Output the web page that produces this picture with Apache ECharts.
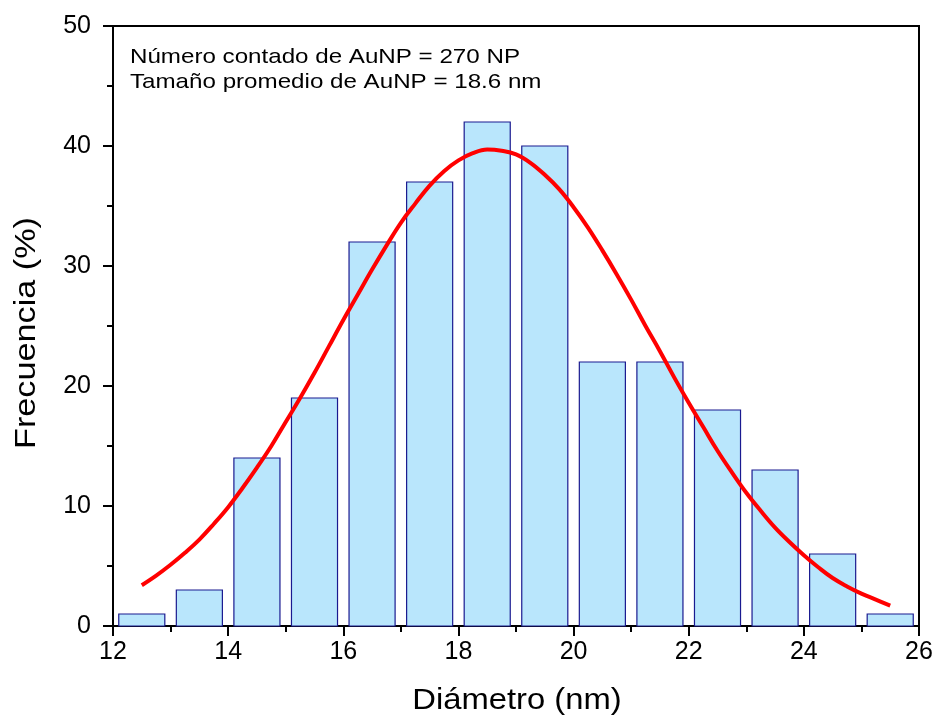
<!DOCTYPE html>
<html><head><meta charset="utf-8">
<script src="https://cdn.jsdelivr.net/npm/echarts@6/dist/echarts.min.js"></script>
<style>html,body{margin:0;padding:0;background:#fff}#c{width:940px;height:719px}</style>
</head><body><div id="c"></div>
<script>
// Histogram bins (centers, nm) and frequencies (%)
const binCenters = [12.5,13.5,14.5,15.5,16.5,17.5,18.5,19.5,20.5,21.5,22.5,23.5,24.5,25.5];
const frequencies = [1,3,14,19,32,37,42,40,22,22,18,13,6,1];
const binWidth = 0.8;
// Fitted curve
const fitX = [12.5,12.75,13,13.25,13.5,13.75,14,14.25,14.5,14.75,15,15.25,15.5,15.75,16,16.25,16.5,16.75,17,17.25,17.5,17.75,18,18.25,18.5,18.75,19,19.25,19.5,19.75,20,20.25,20.5,20.75,21,21.25,21.5,21.75,22,22.25,22.5,22.75,23,23.25,23.5,23.75,24,24.25,24.5,24.75,25,25.25,25.5];
const fitY = [3.4,4.2,5.1,6.1,7.2,8.5,9.9,11.5,13.2,15.0,17.0,19.0,21.1,23.3,25.5,27.6,29.7,31.7,33.6,35.2,36.7,37.9,38.8,39.4,39.7,39.6,39.3,38.6,37.6,36.4,34.9,33.2,31.3,29.3,27.2,25.0,22.9,20.7,18.6,16.6,14.6,12.8,11.1,9.6,8.2,7.0,5.9,4.9,4.0,3.3,2.7,2.2,1.7];
const xTicks = [12,14,16,18,20,22,24,26];
const yTicks = [0,10,20,30,40,50];
const annotation = ['Número contado de AuNP = 270 NP','Tamaño promedio de AuNP = 18.6 nm'];
const xName = 'Diámetro (nm)';
const yName = 'Frecuencia (%)';

const chart = echarts.init(document.getElementById('c'));
const font = 'Arial, "Liberation Sans", sans-serif';
const stretch = 1.15;
chart.setOption({
  animation:false,
  backgroundColor:'#fff',
  grid:{left:113,right:21,top:26,bottom:93,show:true,borderColor:'#000',borderWidth:2,backgroundColor:'transparent'},
  graphic:[
    {type:'text',x:130,y:57,scaleX:stretch,style:{text:annotation[0],x:0,y:0,font:'21px '+font,fill:'#000',align:'left',verticalAlign:'middle'}},
    {type:'text',x:130,y:82,scaleX:stretch,style:{text:annotation[1],x:0,y:0,font:'21px '+font,fill:'#000',align:'left',verticalAlign:'middle'}},
    {type:'text',x:517,y:701,scaleX:1.13,style:{text:xName,x:0,y:0,font:'29px '+font,fill:'#000',align:'center',verticalAlign:'middle'}},
    {type:'text',x:27,y:333,rotation:Math.PI/2,scaleX:1.18,style:{text:yName,x:0,y:0,font:'29px '+font,fill:'#000',align:'center',verticalAlign:'middle'}}
  ],
  xAxis:{type:'value',min:xTicks[0],max:xTicks[xTicks.length-1],interval:2,
    axisLine:{show:true,lineStyle:{color:'#000',width:2}},
    axisTick:{show:true,inside:false,length:10,lineStyle:{color:'#000',width:2}},
    minorTick:{show:true,splitNumber:2,length:6,lineStyle:{color:'#000',width:2}},
    axisLabel:{fontFamily:font,fontSize:25,color:'#000',margin:14},
    splitLine:{show:false}},
  yAxis:{type:'value',min:yTicks[0],max:yTicks[yTicks.length-1],interval:10,
    axisLine:{show:true,lineStyle:{color:'#000',width:2}},
    axisTick:{show:true,inside:false,length:10,lineStyle:{color:'#000',width:2}},
    minorTick:{show:true,splitNumber:2,length:6,lineStyle:{color:'#000',width:2}},
    axisLabel:{fontFamily:font,fontSize:25,color:'#000',margin:22},
    splitLine:{show:false}},
  series:[
    {type:'custom',
     data:binCenters.map((c,i)=>[c,frequencies[i]]),
     renderItem:function(params,api){
       const x=api.value(0), y=api.value(1);
       const p0=api.coord([x-binWidth/2,y]);
       const p1=api.coord([x+binWidth/2,0]);
       return {type:'rect',shape:{x:p0[0],y:p0[1],width:p1[0]-p0[0],height:p1[1]-p0[1]},
         style:{fill:'#b9e6fc',stroke:'#1a1a90',lineWidth:1.2}};
     },z:2},
    {type:'line',data:fitX.map((x,i)=>[x,fitY[i]]),smooth:0.4,showSymbol:false,
     lineStyle:{color:'#ff0000',width:4},z:3}
  ]
});
</script></body></html>
